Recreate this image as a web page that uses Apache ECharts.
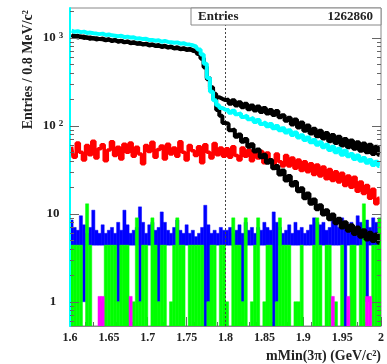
<!DOCTYPE html>
<html>
<head>
<meta charset="utf-8">
<script src="https://cdn.jsdelivr.net/npm/echarts@6/dist/echarts.min.js"></script>
<style>
  html, body { margin: 0; padding: 0; background: #fff; }
  #chart { width: 387px; height: 364px; }
</style>
</head>
<body>
<div id="chart"></div>
<script>
// binning of the displayed histograms (GeV)
var xMin = 1.6, xMax = 2.0, binW = 0.004;
var xTicks = [1.6, 1.65, 1.7, 1.75, 1.8, 1.85, 1.9, 1.95, 2];
var yMin = 0.53, yMax = 2190;
var yMajor = [1, 10, 100, 1000];
var entries = '1262860';

// cyan: total fit
var cyan = [
  1210,1175,1190,1165,1180,1140,1150,1130,1120,1105,
  1120,1080,1095,1070,1060,1045,1060,1020,1035,1010,
  1015,985,990,970,980,945,950,930,940,905,
  925,900,895,880,890,860,870,845,840,825,
  800,740,650,510,350,245,195,172,160,153,
  152,141,149,136,138,126,131,119,123,111,
  117,105,110,99,105,94,100,89,94,84,
  89,79,84,74,78,69,74,65,69,61,
  65,57,61,53,58,50,55,47,52,45,
  48,42,46,40,43,38,41,36,39,35
];
// black: upper branch
var black1 = [
  1080,1035,1060,1020,1040,1000,1015,985,995,970,
  985,950,965,935,945,915,930,895,915,880,
  895,865,875,850,860,835,845,815,830,800,
  815,785,800,765,785,750,765,740,750,725,
  710,670,590,470,350,275,232,212,203,196,
  200,178,195,170,186,163,178,155,170,150,
  166,144,160,138,152,133,148,125,132,114,
  124,104,118,96,109,88,101,82,93,76,
  88,72,83,67,79,64,75,60,71,57,
  68,55,65,52,63,50,61,48,58,47
];
// black: lower branch
var black2 = [
  1040,1060,1010,1045,995,1020,975,1000,960,975,
  965,940,960,920,945,905,925,890,905,870,
  880,860,865,840,850,820,835,810,815,790,
  805,775,790,760,770,745,755,730,740,715,
  700,655,580,460,340,262,200,152,130,108,
  106,89,91,75,80,66,71,58,62,51,
  54,44,47,38,41,33,35,28,31,24,
  27,21,23,18,19.5,15,17,13,14.5,11.3,
  12.5,9.8,11,8.7,9.8,7.8,8.8,7,8,6.4,
  7.4,5.9,7,5.5,6.5,5.1,6.1,4.9,5.8,4.7
];
// red component
var red = [
  58,44,64,50,41,60,47,67,43,55,
  61,40,53,66,46,57,42,62,50,64,
  45,57,48,37,60,51,65,44,54,59,
  42,62,48,56,45,66,50,41,60,52,
  46,58,38,61,50,43,63,47,56,45,
  55,44,58,46,41,56,45,53,40,52,
  43,51,38,49,41,36,48,39,35,46,
  35,43,33,41,31,39,30,37,28,36,
  27,34,25,32,24,30,23,29,21,27,
  20,26,18,23,17,21,15,19,13,15
];
// blue component: lower / upper envelope per displayed bin
var blueLo = [
  4.4,4.4,4.4,4.4,1,4.4,4.4,4.4,4.4,4.4,
  4.4,4.4,4.4,4.4,4.4,1,4.4,4.4,4.4,4.4,
  4.4,4.4,1,4.4,4.4,4.4,4.4,4.4,1,4.4,
  4.4,4.4,4.4,4.4,4.4,4.4,4.4,4.4,4.4,4.4,
  4.4,4.4,4.4,0.53,1,4.4,4.4,4.4,4.4,4.4,
  4.4,4.4,4.4,4.4,4.4,1,4.4,4.4,4.4,4.4,
  4.4,4.4,4.4,4.4,4.4,0.53,1,4.4,4.4,4.4,
  4.4,4.4,4.4,4.4,4.4,4.4,4.4,4.4,4.4,4.4,
  4.4,4.4,4.4,4.4,4.4,4.4,4.4,4.4,0.53,4.4,
  4.4,4.4,4.4,4.4,4.4,1,4.4,4.4,4.4,4.4
];
var blueHi = [
  8.5,7,6.5,9.5,7.5,6,7,11,6.5,6,
  7.5,6,6.5,7,6,8,6.5,11,7.5,6,
  6.5,7,12,8,6,7.5,8,6.5,7,10.5,
  8,6.5,6,7,8.5,6.5,6,7.5,6,6.5,
  5.5,6,7,12.5,7.5,6,6.5,6,7,6.5,
  6.5,7,6,6.5,7.5,6,8,6.5,7,6,
  7,6.5,8,7,6.5,10.5,8,7,6,6.5,
  7.5,6,8,6.5,7,6,6.5,7.5,9,8,
  7.5,8,6.5,7,10,8.5,7,9,8,7.5,
  8,7,9.5,8,7.5,8.5,7,9,8,7
];
// green component
var green = [
  4.4,4.4,4.4,4.4,0,13,4.4,0,0,0,
  1,4.4,4.4,4.4,4.4,1,4.4,4.4,4.4,0,
  1,9,1,4.4,4.4,0,9,4.4,1,4.4,
  4.4,0,1,4.4,9,4.4,4.4,0,4.4,4.4,
  4.4,4.4,4.4,0,1,4.4,4.4,0,4.4,4.4,
  1,0,9,4.4,4.4,1,9,0,1,4.4,
  9,0,1,4.4,4.4,0,1,9,4.4,4.4,
  4.4,0,1,1,4.4,0,0,0,4.4,9,
  4.4,0,4.4,4.4,0,1,0,4.4,0,0,
  4.4,4.4,0,4.4,13,0,0,4.4,4.4,9
];
// magenta component
var magenta = [
  0,0,0,0,0,0,0,0,0,1.15,
  1.15,0,0,0,0,0,0,0,0,1.15,
  0,0,0,0,0,0,0,0,0,0,
  0,0,0,0,0,0,0,0,0,0,
  0,0,0,0,0,0,0,0,0,0,
  0,0,0,0,0,0,0,0,0,0,
  0,0,0,0,0,0,0,0,0,0,
  0,0,0,0,0,0,0,0,0,0,
  0,0,0,0,1.15,0,0,0,0,1.15,
  0,0,0,0,0,1.15,1.15,0,0,0
];

var FONT = 'Liberation Serif';
var xs = [];
for (var i = 0; i < cyan.length; i++) xs.push(+(xMin + binW * (i + 0.5)).toFixed(4));

function pairs(arr) { return arr.map(function (v, i) { return [xs[i], v]; }); }
function bands(lo, hi) { return hi.map(function (v, i) { return [xs[i], Array.isArray(lo) ? lo[i] : lo, v]; }); }

function rectItem(color) {
  return function (params, api) {
    var x = api.value(0), lo = api.value(1), hi = api.value(2);
    if (!(hi > lo)) return null;
    var p0 = api.coord([x - binW / 2, hi]);
    var p1 = api.coord([x + binW / 2, lo]);
    return {
      type: 'rect',
      shape: { x: p0[0], y: p0[1], width: p1[0] - p0[0], height: p1[1] - p0[1] },
      style: { fill: color, stroke: color, lineWidth: 0.5 }
    };
  };
}

function histLine(name, arr, color, width, z) {
  return {
    name: name, type: 'line', data: pairs(arr), step: 'middle',
    showSymbol: false, z: z,
    lineStyle: { color: color, width: width }
  };
}

var minorY = [];
[0.1, 1, 10, 100, 1000].forEach(function (d) {
  for (var k = 2; k <= 9; k++) {
    var v = k * d;
    if (v > yMin && v < yMax) minorY.push(v);
  }
});

function yAx(pos, major, labels, z, lineColor) {
  return {
    type: 'log', logBase: 10, min: yMin, max: yMax, position: pos, z: z,
    axisLine: { show: !!lineColor, lineStyle: { color: lineColor || '#888', width: 2 } },
    axisTick: {
      inside: true, length: major ? 9 : 4,
      customValues: major ? yMajor : minorY,
      lineStyle: { color: '#666', width: 1 }
    },
    axisLabel: labels ? {
      customValues: yMajor,
      align: 'center', margin: 17,
      formatter: function (v) {
        var e = Math.round(Math.log10(v));
        if (e <= 0) return '{b|1}';
        if (e === 1) return '{b|10}';
        return '{b|10}{s|' + e + '}';
      },
      rich: {
        b: { fontFamily: FONT, fontWeight: 'bold', fontSize: 13, color: '#222' },
        s: { fontFamily: FONT, fontWeight: 'bold', fontSize: 9, color: '#222', verticalAlign: 'top', padding: [0, 0, 0, 3] }
      }
    } : { show: false },
    splitLine: { show: false }
  };
}

var chart = echarts.init(document.getElementById('chart'));
chart.setOption({
  animation: false,
  backgroundColor: '#fff',
  grid: { left: 70, right: 6, top: 8, bottom: 38, show: true, borderColor: '#888', borderWidth: 1 },
  xAxis: {
    type: 'value', min: xMin, max: xMax, interval: 0.05,
    axisLine: { lineStyle: { color: '#888' } },
    axisTick: { inside: true, length: 9, lineStyle: { color: '#666' } },
    minorTick: { show: true, splitNumber: 5, length: 4, lineStyle: { color: '#666' } },
    axisLabel: {
      fontFamily: FONT, fontWeight: 'bold', fontSize: 12, color: '#222', margin: 6,
      customValues: xTicks
    },
    splitLine: { show: false }
  },
  yAxis: [
    yAx('left', true, true, 10, '#00ffff'),
    yAx('left', false, false, 10),
    yAx('right', true, false, 10),
    yAx('right', false, false, 10)
  ],
  series: [
    { type: 'custom', name: 'blue', clip: true, z: 2, renderItem: rectItem('#0000ff'),
      encode: { x: 0, y: [1, 2] }, data: bands(blueLo, blueHi) },
    { type: 'custom', name: 'green', clip: true, z: 3, renderItem: rectItem('#00ff00'),
      encode: { x: 0, y: [1, 2] }, data: bands(yMin, green) },
    { type: 'custom', name: 'magenta', clip: true, z: 4, renderItem: rectItem('#ff00ff'),
      encode: { x: 0, y: [1, 2] }, data: bands(yMin, magenta) },
    histLine('red', red, '#ff0000', 3.5, 5),
    histLine('black2', black2, '#000000', 4, 6),
    histLine('black1', black1, '#000000', 4, 6),
    Object.assign(histLine('cyan', cyan, '#00ffff', 4, 7), {
      markLine: {
        silent: true, symbol: ['none', 'none'],
        label: { show: false },
        lineStyle: { color: '#444', width: 1, type: [2, 2] },
        data: [{ xAxis: 1.8 }]
      }
    })
  ],
  graphic: [
    { type: 'rect', z: 100, shape: { x: 191, y: 8, width: 190, height: 17 },
      style: { fill: '#fff', stroke: '#888', lineWidth: 1 } },
    { type: 'text', z: 101, x: 198, y: 17,
      style: { text: 'Entries', font: 'bold 13px ' + FONT, fill: '#222', align: 'left', verticalAlign: 'middle' } },
    { type: 'text', z: 101, x: 373, y: 17,
      style: { text: entries, font: 'bold 13px ' + FONT, fill: '#222', align: 'right', verticalAlign: 'middle' } },
    { type: 'text', z: 101, x: 28, y: 10, rotation: Math.PI / 2,
      style: { text: 'Entries / 0.8 MeV/c\u00b2', font: 'bold 14px ' + FONT, fill: '#222', align: 'right', verticalAlign: 'middle' } },
    { type: 'text', z: 101, x: 381, y: 356,
      style: { text: 'mMin(3\u03c0) (GeV/c\u00b2)', font: 'bold 14px ' + FONT, fill: '#222', align: 'right', verticalAlign: 'middle' } }
  ]
});
</script>
</body>
</html>
